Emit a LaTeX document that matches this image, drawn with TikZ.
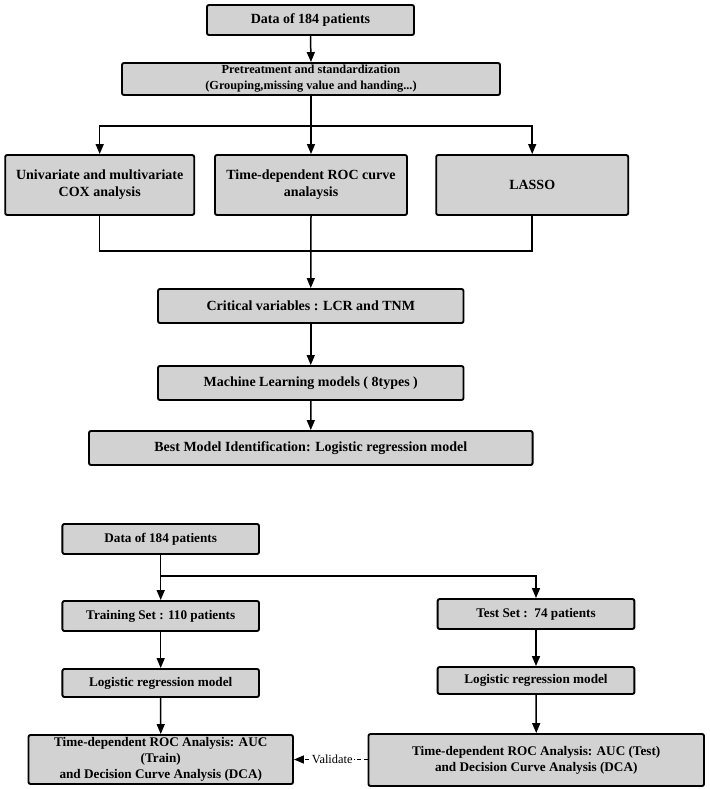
\documentclass[tikz,border=0pt]{standalone}
\usepackage{fontspec}
\setmainfont{Liberation Serif}
\usetikzlibrary{arrows.meta}
\definecolor{boxgray}{RGB}{210,210,210}
\begin{document}
\begin{tikzpicture}[x=1pt,y=-1pt,
  box/.style={draw=black, line width=1.9pt, fill=boxgray, rounded corners=2pt,
    inner sep=0pt, align=center, font=\bfseries\fontsize{14}{16.7}\selectfont},
  smallbox/.style={box, font=\bfseries\fontsize{12.3}{16}\selectfont},
  lowbox/.style={box, font=\bfseries\fontsize{13.2}{16.3}\selectfont},
  arr/.style={line width=1.5pt, -{Triangle[length=10pt,width=8pt]}},
  ln/.style={line width=1.5pt},
  vlabel/.style={fill=white, inner sep=1pt, font=\fontsize{12.4}{14}\selectfont}]
\useasboundingbox (0,0) rectangle (709,789);
% top section
\node[box, minimum width=207, minimum height=30] (d1) at (310.5,20) {Data of 184 patients};
\node[smallbox, minimum width=378, minimum height=32] (pre) at (311,79) {Pretreatment and standardization\\(Grouping,missing value and handing...)};
\node[box, minimum width=189, minimum height=60] (cox) at (99.7,185) {Univariate and multivariate\\COX analysis};
\node[box, minimum width=192, minimum height=60] (roc) at (311,185) {Time-dependent ROC curve\\analaysis};
\node[box, minimum width=192, minimum height=60] (lasso) at (532.2,185) {LASSO};
\node[box, minimum width=305.5, minimum height=34] (crit) at (310.75,306) {Critical variables : LCR and TNM};
\node[box, minimum width=305.5, minimum height=34] (ml) at (310.75,383) {Machine Learning models ( 8types )};
\node[box, minimum width=443.6, minimum height=34] (best) at (310.8,448) {Best Model Identification: Logistic regression model};
\coordinate (br) at (311,126);
\coordinate (jn) at (311,251);
\draw[arr] (d1.south) -- (pre.north);
\draw[arr] (pre.south) -- (roc.north);
\draw[arr] (br) -| (cox.north);
\draw[arr] (br) -| (lasso.north);
\draw[ln] (cox.south) |- (jn);
\draw[ln] (lasso.south) |- (jn);
\draw[arr] (roc.south) -- (crit.north);
\draw[arr] (crit.south) -- (ml.north);
\draw[arr] (ml.south) -- (best.north);
% bottom section
\node[lowbox, minimum width=196.6, minimum height=30] (d2) at (160.7,539) {Data of 184 patients};
\node[lowbox, minimum width=196.6, minimum height=30] (train) at (160.7,616) {Training Set : 110 patients};
\node[lowbox, minimum width=196.7, minimum height=30] (test) at (536,614) {Test Set :\ \ 74 patients};
\node[lowbox, minimum width=196.6, minimum height=28] (logl) at (160.7,683) {Logistic regression model};
\node[lowbox, minimum width=196.7, minimum height=27] (logr) at (536,680.5) {Logistic regression model};
\node[lowbox, minimum width=264.5, minimum height=49] (botl) at (160.75,759.5) {Time-dependent ROC Analysis: AUC\\(Train)\\and Decision Curve Analysis (DCA)};
\node[lowbox, minimum width=335.5, minimum height=52] (botr) at (536.25,760) {Time-dependent ROC Analysis: AUC (Test)\\and Decision Curve Analysis (DCA)};
\coordinate (sp) at (160.7,576);
\draw[arr] (d2.south) -- (train.north);
\draw[arr] (sp) -| (test.north);
\draw[arr] (train.south) -- (logl.north);
\draw[arr] (logl.south) -- (botl.north);
\draw[arr] (test.south) -- (logr.north);
\draw[arr] (logr.south) -- (botr.north);
\draw[arr, dash pattern=on 4pt off 2.5pt] (botr.west |- botl.east) -- node[vlabel, pos=0.48] (val) {Validate} (botl.east);
\end{tikzpicture}
\end{document}
